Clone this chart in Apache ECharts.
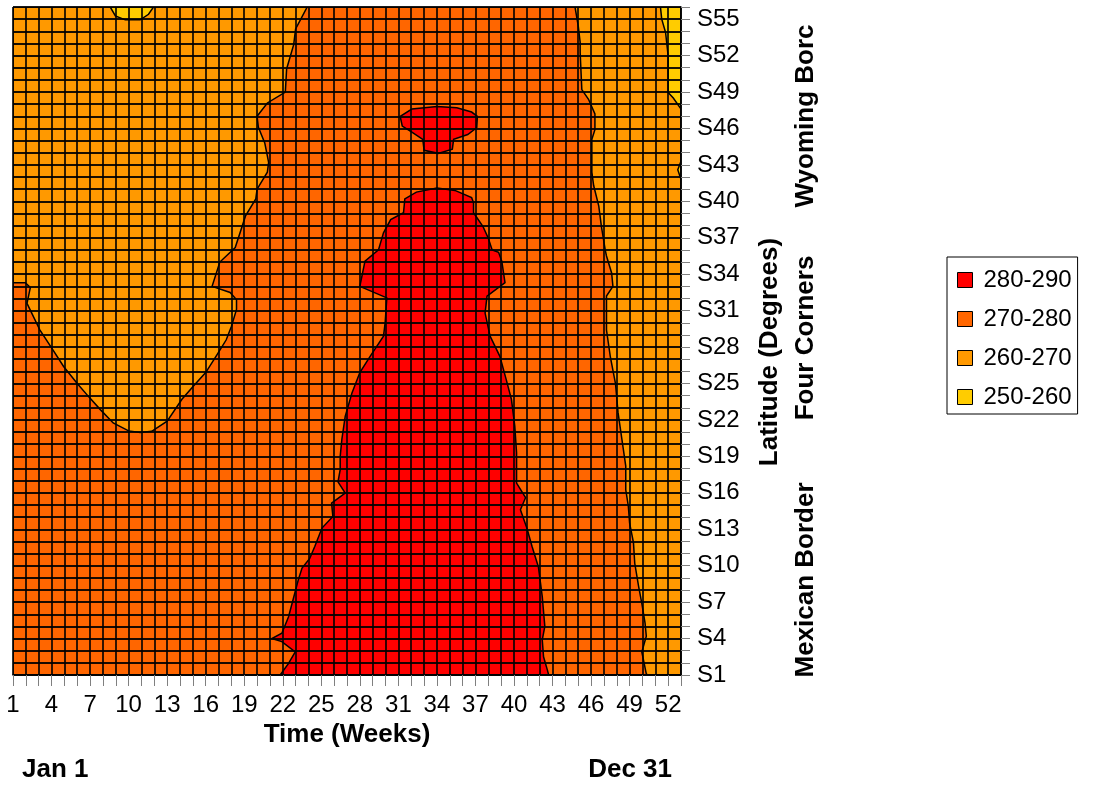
<!DOCTYPE html>
<html>
<head>
<meta charset="utf-8">
<title>Contour</title>
<script src="https://cdn.jsdelivr.net/npm/echarts@6/dist/echarts.min.js"></script>
<style>
  html, body { margin: 0; height: 100%; background: #fff; }
  #main { width: 1096px; height: 785px; }
</style>
</head>
<body>
<div id="main"></div>
<script>
// contour levels, top to bottom as in the legend
var levels = ['280-290', '270-280', '260-270', '250-260'];

// contour regions, each a list of [week, latitude] points
var band270All = [[1, 1], [53, 1], [53, 56], [1, 56]];

var band260Left = [[1, 56], [23.9, 56], [23.0, 54.2], [22.85, 52.9], [22.3, 50.9], [22.2, 49.0],
  [20.8, 48.1], [20.0, 47.0], [20.1, 46.1], [20.6, 44.8], [20.9, 43.2], [20.8, 42.4], [20.0, 41.0],
  [19.9, 40.2], [19.1, 38.8], [18.3, 36.2], [17.1, 35.0], [16.5, 33.0], [17.9, 32.5], [18.4, 31.9],
  [18.4, 31.1], [18.0, 29.7], [17.6, 28.6], [16.9, 27.4], [16.0, 25.9], [15.05, 24.8], [14.15, 23.7],
  [13.0, 21.9], [11.8, 21.06], [10.9, 20.97], [10.0, 21.1], [8.8, 21.75], [7.8, 22.85], [6.9, 23.9],
  [6.0, 25.0], [4.94, 26.4], [4.03, 27.9], [3.1, 29.4], [2.09, 31.6], [2.35, 32.9], [1.96, 33.3], [1, 33.3]];

var band260Right = [[44.75, 56], [45.0, 54.45], [45.15, 53.1], [45.15, 52.25], [45.28, 49.2], [45.8, 48.4],
  [46.3, 47.2], [46.3, 45.9], [46.06, 45.1], [46.06, 42.4], [46.2, 41.3], [46.6, 39.6], [46.8, 37.96],
  [47.1, 36.0], [47.2, 35.5], [47.6, 34.1], [47.7, 33.0], [47.2, 32.2], [47.2, 29.4], [47.5, 27.2],
  [47.9, 25.0], [48.1, 22.6], [48.4, 20.4], [48.7, 18.2], [48.7, 16.25], [48.9, 14.9], [49.0, 13.5],
  [49.3, 11.9], [49.4, 10.2], [49.7, 8.3], [49.95, 6.9], [50.2, 5.3], [50.3, 4.2], [49.95, 2.9],
  [50.3, 1.1], [50.4, 1], [53, 1], [53, 56]];

var band250Right = [[51.4, 56], [51.5, 55.0], [51.8, 53.9], [52.0, 51.97], [52.0, 48.96], [52.4, 48.5],
  [53, 47.6], [53, 56]];
var band250Bump = [[53, 43.3], [52.75, 42.6], [53, 41.8]];
var band250Top = [[8.57, 56], [8.97, 55.27], [9.74, 54.94], [10.9, 54.94], [11.55, 55.4], [11.94, 56]];

var band280Main = [[21.8, 1], [22.45, 1.96], [22.97, 2.9], [21.93, 3.75], [21.15, 4.0], [21.93, 4.44],
  [22.45, 5.8], [22.8, 7.2], [23.2, 8.8], [23.5, 9.8], [24.1, 10.6], [24.5, 11.6], [25.05, 13.1],
  [25.9, 14.05], [25.8, 15.15], [26.86, 15.98], [26.3, 16.9], [26.47, 17.9], [26.47, 19.0], [26.6, 20.4],
  [26.86, 22.3], [27.38, 24.2], [28.0, 25.9], [28.8, 27.24], [29.84, 28.9], [29.97, 30.0], [30.1, 32.05],
  [28.0, 33.0], [28.4, 35.07], [29.45, 36.0], [29.84, 37.4], [30.4, 38.5], [31.4, 39.06], [31.5, 40.2],
  [32.4, 40.76], [34.0, 41.1], [35.4, 40.9], [36.7, 40.3], [36.85, 39.9], [36.85, 39.06], [37.6, 37.9],
  [38.0, 36.96], [38.3, 36.0], [38.8, 35.8], [39.05, 35.07], [39.3, 33.3], [37.9, 32.2], [37.75, 30.8],
  [38.14, 28.9], [38.9, 27.24], [39.4, 25.3], [39.8, 23.7], [40.06, 21.5], [40.2, 19.3], [40.2, 17.9],
  [40.2, 16.8], [40.9, 15.6], [40.5, 14.6], [41.0, 13.1], [41.4, 11.6], [41.9, 9.9], [42.2, 7.45],
  [42.4, 5.0], [42.2, 3.9], [42.3, 2.5], [42.6, 1.4], [42.7, 1]];

var band280Small = [[31.14, 47.0], [32.05, 47.6], [34.0, 47.8], [35.55, 47.7], [36.7, 47.35], [37.15, 47.0],
  [37.1, 46.06], [36.4, 45.5], [35.3, 45.1], [35.2, 44.3], [34.1, 43.95], [33.0, 44.2], [32.9, 45.1],
  [32.05, 45.7], [31.3, 46.2]];

var colors = {
  '280-290': '#ff0000',
  '270-280': '#ff6600',
  '260-270': '#ff9900',
  '250-260': '#ffcc00'
};
var font = '"Liberation Sans", Arial, sans-serif';

function bandSeries(name, shapes) {
  return {
    type: 'custom',
    name: name,
    coordinateSystem: 'cartesian2d',
    clip: true,
    itemStyle: { color: colors[name] },
    data: shapes.map(function (s, i) { return [s[0][0], s[0][1], i]; }),
    renderItem: function (params, api) {
      var pts = shapes[params.dataIndex].map(function (p) { return api.coord(p); });
      return {
        type: 'polygon',
        shape: { points: pts },
        style: { fill: colors[name], stroke: '#000', lineWidth: 1.5 }
      };
    }
  };
}

var myChart = echarts.init(document.getElementById('main'));
var option = {
  animation: false,
  grid: { left: 13, right: 415, top: 7, bottom: 110, containLabel: false, outerBoundsMode: 'none' },
  legend: {
    data: levels,
    orient: 'vertical',
    left: 947,
    top: 257,
    padding: [11, 6, 5, 10],
    itemGap: 15,
    itemWidth: 15,
    itemHeight: 15,
    icon: 'rect',
    borderColor: '#000',
    borderWidth: 1,
    itemStyle: { borderColor: '#000', borderWidth: 1 },
    textStyle: { fontSize: 24, fontFamily: font, color: '#000', padding: [0, 0, 0, 6] }
  },
  xAxis: {
    type: 'value',
    min: 1,
    max: 53,
    interval: 1,
    z: 5,
    name: 'Time (Weeks)',
    nameLocation: 'middle',
    nameGap: 44,
    nameTextStyle: { fontSize: 26, fontWeight: 'bold', fontFamily: font, color: '#000' },
    axisLine: { lineStyle: { color: '#000', width: 1.5 } },
    axisTick: { length: 11, lineStyle: { color: '#808080' } },
    axisLabel: {
      margin: 18,
      fontSize: 24,
      fontFamily: font,
      color: '#000',
      formatter: function (v) { return (v - 1) % 3 === 0 ? String(v) : ''; }
    },
    splitLine: { show: true, lineStyle: { color: '#000', width: 1.8, opacity: 0.9 } }
  },
  yAxis: {
    type: 'value',
    position: 'right',
    min: 1,
    max: 56,
    interval: 1,
    z: 5,
    axisLine: { show: true, lineStyle: { color: '#000', width: 1.5 } },
    axisTick: { show: true, length: 9, lineStyle: { color: '#808080' } },
    axisLabel: {
      margin: 16,
      fontSize: 24,
      fontFamily: font,
      color: '#000',
      formatter: function (v) { return (v - 1) % 3 === 0 ? 'S' + v : ''; }
    },
    splitLine: { show: true, lineStyle: { color: '#000', width: 1.8, opacity: 0.9 } }
  },
  graphic: [
    { type: 'text', x: 770, y: 352, rotation: Math.PI / 2,
      style: { text: 'Latitude (Degrees)', font: 'bold 26px ' + font, fill: '#000', align: 'center', verticalAlign: 'middle' } },
    { type: 'text', x: 806, y: 116, rotation: Math.PI / 2,
      style: { text: 'Wyoming Borc', font: 'bold 26px ' + font, fill: '#000', align: 'center', verticalAlign: 'middle' } },
    { type: 'text', x: 806, y: 338, rotation: Math.PI / 2,
      style: { text: 'Four Corners', font: 'bold 26px ' + font, fill: '#000', align: 'center', verticalAlign: 'middle' } },
    { type: 'text', x: 806, y: 580, rotation: Math.PI / 2,
      style: { text: 'Mexican Border', font: 'bold 26px ' + font, fill: '#000', align: 'center', verticalAlign: 'middle' } },
    { type: 'text', x: 22, y: 770,
      style: { text: 'Jan 1', font: 'bold 26px ' + font, fill: '#000', align: 'left', verticalAlign: 'middle' } },
    { type: 'text', x: 672, y: 770,
      style: { text: 'Dec 31', font: 'bold 26px ' + font, fill: '#000', align: 'right', verticalAlign: 'middle' } }
  ],
  series: [
    bandSeries('270-280', [band270All]),
    bandSeries('260-270', [band260Left, band260Right]),
    bandSeries('250-260', [band250Right, band250Bump, band250Top]),
    bandSeries('280-290', [band280Main, band280Small])
  ]
};
myChart.setOption(option);
</script>
</body>
</html>
